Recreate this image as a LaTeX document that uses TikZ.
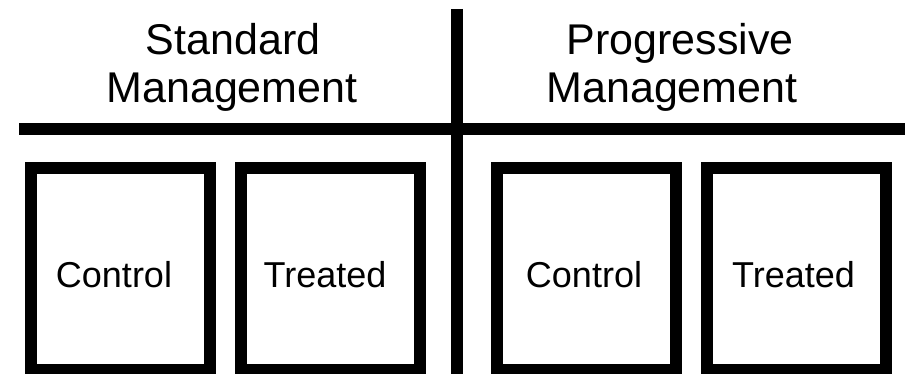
\documentclass[tikz,border=0pt]{standalone}
\usepackage{fontspec}
\setmainfont{Liberation Sans}
\usepackage{tikz}
\usetikzlibrary{positioning}

\begin{document}
\begin{tikzpicture}[x=1pt,y=1pt,
    bar/.style={line width=12pt},
    plot/.style={draw,line width=12pt,minimum width=179pt,minimum height=202pt,inner sep=0pt},
    head/.style={font=\fontsize{43}{48}\selectfont,anchor=base},
    lab/.style={font=\fontsize{36}{40}\selectfont,anchor=base}]
            \useasboundingbox (0,0) rectangle (905,373);
            \coordinate (hl) at (19,244);
            \coordinate (hr) at (905,244);
            \coordinate (vt) at (457,364);
            \coordinate (vb) at (457,-5);
            \draw[bar] (hl) -- (hr);
            \draw[bar] (vt) -- (vb);
            % headings
            \node[head] (std) at (233,318) {Standard};
            \node[head] (stdm) at (232,270) {Management};
            \node[head] (prog) at (680,318) {Progressive};
            \node[head] (progm) at (672,270) {Management};
            % plots
            \node[plot] (c1) at (120.5,104) {};
            \node[plot] (t1) at (330,104) {};
            \node[plot] (c2) at (586.5,104) {};
            \node[plot] (t2) at (796,104) {};
            \node[lab] (c1l) at (114,86) {Control};
            \node[lab] (t1l) at (325,86) {Treated};
            \node[lab] (c2l) at (584,86) {Control};
            \node[lab] (t2l) at (793.5,86) {Treated};
        \end{tikzpicture}
\end{document}
